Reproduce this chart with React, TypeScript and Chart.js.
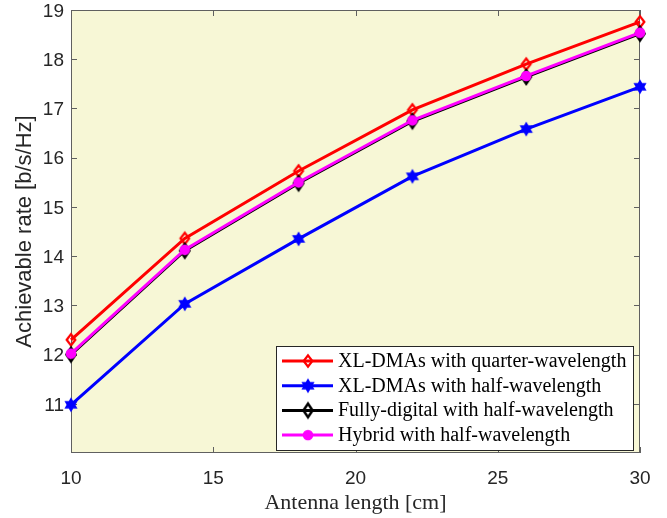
import React, { useEffect, useRef } from 'react';
import { Chart, registerables } from 'chart.js';

Chart.register(...registerables);

const antennaLength = [10, 14, 18, 22, 26, 30];
const xlDmaQuarter = [12.3, 14.36, 15.73, 16.97, 17.9, 18.76];
const xlDmaHalf = [10.98, 13.03, 14.35, 15.62, 16.58, 17.44];
const fullyDigitalHalf = [12.0, 14.11, 15.48, 16.74, 17.64, 18.52];
const hybridHalf = [12.02, 14.13, 15.5, 16.76, 17.66, 18.54];

const seriesLabels = [
  'XL-DMAs with quarter-wavelength',
  'XL-DMAs with half-wavelength',
  'Fully-digital with half-wavelength',
  'Hybrid with half-wavelength',
];
const seriesColors = ['#ff0000', '#0000ff', '#000000', '#ff00ff'];
const xTicks = [10, 15, 20, 25, 30];
const yTicks = [11, 12, 13, 14, 15, 16, 17, 18, 19];
const xTitle = 'Antenna length [cm]';
const yTitle = 'Achievable rate [b/s/Hz]';

type MarkerKind = 'diamond' | 'hexagram' | 'diamondBig' | 'circle';

function makeMarker(kind: MarkerKind, color: string): HTMLCanvasElement {
  const size = 22;
  const c = document.createElement('canvas');
  c.width = size;
  c.height = size;
  const ctx = c.getContext('2d')!;
  const cx = size / 2;
  const cy = size / 2;
  ctx.strokeStyle = color;
  ctx.fillStyle = color;
  if (kind === 'diamond' || kind === 'diamondBig') {
    const hw = kind === 'diamond' ? 4.3 : 4.6;
    const hh = kind === 'diamond' ? 5.6 : 6.8;
    ctx.lineWidth = kind === 'diamond' ? 2.3 : 2.5;
    ctx.beginPath();
    ctx.moveTo(cx, cy - hh);
    ctx.lineTo(cx + hw, cy);
    ctx.lineTo(cx, cy + hh);
    ctx.lineTo(cx - hw, cy);
    ctx.closePath();
    ctx.stroke();
  } else if (kind === 'hexagram') {
    const ro = 7.6;
    const ri = ro / Math.sqrt(3);
    ctx.beginPath();
    for (let i = 0; i < 12; i++) {
      const a = -Math.PI / 2 + (i * Math.PI) / 6;
      const r = i % 2 === 0 ? ro : ri;
      const px = cx + r * Math.cos(a);
      const py = cy + r * Math.sin(a);
      if (i === 0) ctx.moveTo(px, py);
      else ctx.lineTo(px, py);
    }
    ctx.closePath();
    ctx.fill();
  } else {
    ctx.beginPath();
    ctx.arc(cx, cy, 5.3, 0, Math.PI * 2);
    ctx.fill();
  }
  return c;
}

export default function App() {
  const canvasRef = useRef<HTMLCanvasElement | null>(null);

  useEffect(() => {
    if (!canvasRef.current) return;
    const markers = [
      makeMarker('diamond', seriesColors[0]),
      makeMarker('hexagram', seriesColors[1]),
      makeMarker('diamondBig', seriesColors[2]),
      makeMarker('circle', seriesColors[3]),
    ];
    const values = [xlDmaQuarter, xlDmaHalf, fullyDigitalHalf, hybridHalf];
    const orders = [3, 2, 1, 0];

    const datasets = values.map((vals, i) => ({
      label: seriesLabels[i],
      data: antennaLength.map((x, j) => ({ x, y: vals[j] })),
      borderColor: seriesColors[i],
      backgroundColor: seriesColors[i],
      borderWidth: 3,
      pointStyle: markers[i] as any,
      pointRadius: 6,
      pointHoverRadius: 6,
      tension: 0,
      clip: false as any,
      order: orders[i],
    }));

    const axisGray = '#262626';

    const frame = {
      id: 'matlabFrame',
      beforeDraw(chart: any) {
        const { ctx, chartArea } = chart;
        ctx.save();
        ctx.fillStyle = '#f7f7d6';
        ctx.fillRect(chartArea.left, chartArea.top, chartArea.right - chartArea.left, chartArea.bottom - chartArea.top);
        ctx.restore();
      },
      beforeDatasetsDraw(chart: any) {
        const { ctx, chartArea } = chart;
        const { left, right, top, bottom } = chartArea;
        const xs = chart.scales.x;
        const ys = chart.scales.y;
        ctx.save();
        ctx.strokeStyle = '#606060';
        ctx.lineWidth = 1;
        ctx.beginPath();
        for (const t of xTicks) {
          const px = Math.round(xs.getPixelForValue(t)) + 0.5;
          ctx.moveTo(px, bottom);
          ctx.lineTo(px, bottom - 6);
          ctx.moveTo(px, top);
          ctx.lineTo(px, top + 6);
        }
        for (const t of yTicks) {
          const py = Math.round(ys.getPixelForValue(t)) + 0.5;
          ctx.moveTo(left, py);
          ctx.lineTo(left + 6, py);
          ctx.moveTo(right, py);
          ctx.lineTo(right - 6, py);
        }
        ctx.stroke();
        ctx.strokeRect(Math.round(left) + 0.5, Math.round(top) + 0.5, Math.round(right - left) - 1, Math.round(bottom - top) - 1);

        // tick labels
        ctx.fillStyle = axisGray;
        ctx.font = '19px "Liberation Sans"';
        ctx.textBaseline = 'alphabetic';
        ctx.textAlign = 'center';
        for (const t of xTicks) {
          ctx.fillText(String(t), xs.getPixelForValue(t), bottom + 31);
        }
        ctx.textAlign = 'right';
        for (const t of yTicks) {
          ctx.fillText(String(t), left - 7, ys.getPixelForValue(t) + 6.8);
        }
        // axis titles
        ctx.font = '22px "Liberation Serif"';
        ctx.textAlign = 'center';
        ctx.fillText(xTitle, (left + right) / 2, 509);
        ctx.save();
        ctx.font = '22px "Liberation Sans"';
        ctx.translate(31, (top + bottom) / 2);
        ctx.rotate(-Math.PI / 2);
        ctx.textAlign = 'center';
        ctx.fillText(yTitle, 0, 0);
        ctx.restore();
        ctx.restore();
      },
      afterDatasetsDraw(chart: any) {
        const { ctx, chartArea } = chart;
        const w = 358;
        const h = 105;
        const lx = Math.round(chartArea.right - 6 - w);
        const ly = Math.round(chartArea.bottom - 2 - h);
        ctx.save();
        ctx.fillStyle = '#ffffff';
        ctx.fillRect(lx, ly, w, h);
        ctx.strokeStyle = '#262626';
        ctx.lineWidth = 1;
        ctx.strokeRect(lx + 0.5, ly + 0.5, w - 1, h - 1);
        ctx.font = '20px "Liberation Serif"';
        ctx.textBaseline = 'alphabetic';
        ctx.textAlign = 'left';
        for (let i = 0; i < seriesLabels.length; i++) {
          const ry = ly + 15 + i * 24.7;
          ctx.strokeStyle = seriesColors[i];
          ctx.lineWidth = 3;
          ctx.beginPath();
          ctx.moveTo(lx + 6, ry);
          ctx.lineTo(lx + 57, ry);
          ctx.stroke();
          const m = markers[i];
          ctx.drawImage(m, lx + 32 - m.width / 2, ry - m.height / 2);
          ctx.fillStyle = '#000000';
          ctx.fillText(seriesLabels[i], lx + 62, ry + 6);
        }
        ctx.restore();
      },
    };

    const chart = new Chart(canvasRef.current, {
      type: 'line',
      data: { datasets: datasets as any },
      options: {
        animation: false,
        responsive: false,
        events: [],
        layout: { padding: { top: 10, right: 27, bottom: 0, left: 0 }, autoPadding: false } as any,
        plugins: {
          legend: { display: false },
          tooltip: { enabled: false },
        },
        scales: {
          x: {
            type: 'linear',
            min: 10,
            max: 30,
            afterFit: (s: any) => {
              s.height = 65;
              s.paddingLeft = 0;
              s.paddingRight = 0;
              s.paddingTop = 0;
              s.paddingBottom = 0;
            },
            ticks: { display: false },
            grid: { display: false, drawTicks: false },
            border: { display: false },
            title: { display: false },
          } as any,
          y: {
            type: 'linear',
            min: 10,
            max: 19,
            afterFit: (s: any) => {
              s.width = 71;
              s.paddingLeft = 0;
              s.paddingRight = 0;
              s.paddingTop = 0;
              s.paddingBottom = 0;
            },
            ticks: { display: false },
            grid: { display: false, drawTicks: false },
            border: { display: false },
            title: { display: false },
          } as any,
        },
      },
      plugins: [frame],
    });

    return () => chart.destroy();
  }, []);

  return (
    <div style={{ position: 'absolute', left: 0, top: 0, width: 667, height: 518, background: '#ffffff' }}>
      <canvas ref={canvasRef} width={667} height={518} style={{ display: 'block' }} />
    </div>
  );
}
